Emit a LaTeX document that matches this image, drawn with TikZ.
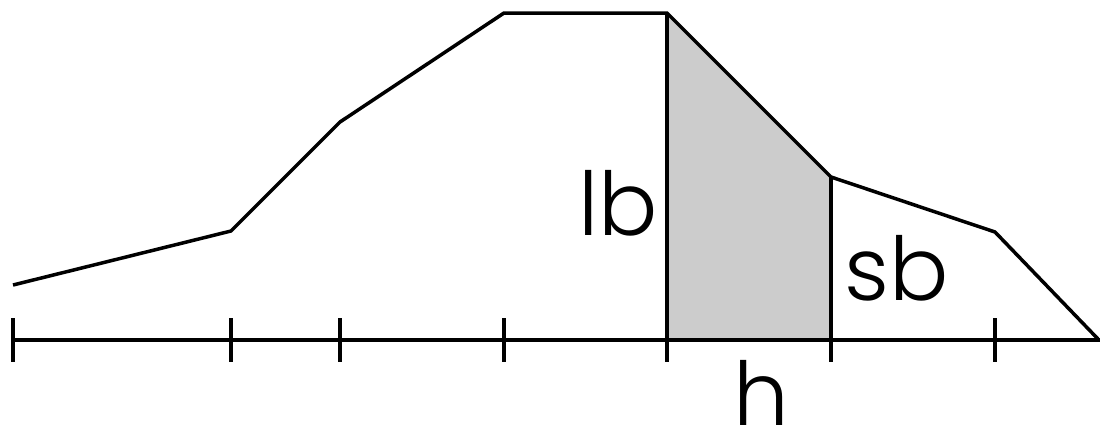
\documentclass[tikz,border=0pt]{standalone}
\usepackage{fontspec}
\setmainfont{Poppins}[UprightFont=* Light]
\begin{document}
\begin{tikzpicture}[x=1pt,y=-1pt,
  stroke/.style={line width=3.5pt,line join=miter,black},
  lbl/.style={inner sep=0pt,anchor=base,font=\fontsize{88}{88}\selectfont}]
\useasboundingbox (0,0) rectangle (1100,429);
% curve points
\coordinate (p0) at (13,285);
\coordinate (p1) at (231,231);
\coordinate (p2) at (340,122);
\coordinate (p3) at (504,13);
\coordinate (p4) at (667,13);
\coordinate (p5) at (831,177);
\coordinate (p6) at (995,232);
\coordinate (p7) at (1098,339);
% axis points
\coordinate (a0) at (13,340);
\coordinate (a4) at (667,340);
\coordinate (a5) at (831,340);
\coordinate (a8) at (1100,340);
% shaded area
\fill[black!20] (a4) -- (p4) -- (p5) -- (a5) -- cycle;
\draw[stroke] (a4) -- (p4);
\draw[stroke] (a5) -- (p5);
% curve
\draw[stroke] (p0) -- (p1) -- (p2) -- (p3) -- (p4) -- (p5) -- (p6) -- (p7);
% axis
\draw[stroke] (a0) -- (a8);
\foreach \x in {13,231,340,504,667,831,995}
  \draw[stroke] (\x,318) -- (\x,362);
% labels
\node[lbl] (lb) at (618,235) {lb};
\node[lbl] (sb) at (897,300) {sb};
\node[lbl] (h) at (761,425) {h};
\end{tikzpicture}
\end{document}
